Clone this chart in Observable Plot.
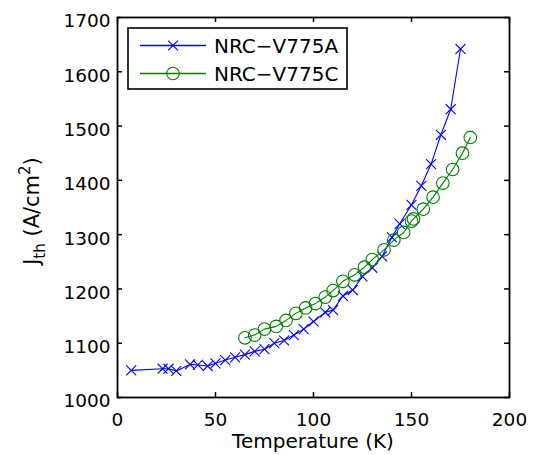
<!DOCTYPE html>
<html>
<head>
<meta charset="utf-8">
<script src="https://cdn.jsdelivr.net/npm/d3@7"></script>
<script src="https://cdn.jsdelivr.net/npm/@observablehq/plot@0.6"></script>
<style>
  html, body { margin: 0; padding: 0; background: #fff; }
  svg { font-family: "DejaVu Sans", sans-serif; }
</style>
</head>
<body>
<div id="chart"></div>
<script>
// Series A (blue, x markers)
const tempA = [7, 23, 26, 30, 37, 41, 46, 50, 55, 60, 65, 70, 75, 80, 85, 90, 95, 100, 106, 110, 115, 120, 125, 130, 135, 140, 144, 150, 155, 160, 165, 170, 175];
const jthA  = [1050, 1053, 1053, 1049, 1061, 1060, 1058, 1063, 1069, 1074, 1079, 1085, 1089, 1100, 1105, 1115, 1126, 1140, 1157, 1161, 1187, 1198, 1223, 1239, 1260, 1295, 1320, 1355, 1390, 1430, 1484, 1531, 1642];
// Series C (green, circles)
const tempC = [65, 70, 75, 81, 86, 91, 96, 101, 106, 110, 115, 121, 126, 130, 136, 141, 146, 150, 151, 156, 161, 166, 171, 176, 180];
const jthC  = [1110, 1115, 1126, 1131, 1142, 1155, 1165, 1173, 1185, 1197, 1214, 1226, 1240, 1254, 1272, 1290, 1304, 1325, 1329, 1347, 1369, 1395, 1420, 1450, 1479];

const seriesNames = ["NRC\u2212V775A", "NRC\u2212V775C"];
const xTicks = [0, 50, 100, 150, 200];
const yTicks = [1000, 1100, 1200, 1300, 1400, 1500, 1600, 1700];

const dataA = tempA.map((t, i) => ({t, j: jthA[i]}));
const dataC = tempC.map((t, i) => ({t, j: jthC[i]}));

const blue = "#0000ff", green = "#008000";
const fmt = d3.format("d");
const xMin = xTicks[0], xMax = xTicks[xTicks.length - 1];
const yMin = yTicks[0], yMax = yTicks[yTicks.length - 1];

const chart = Plot.plot({
  width: 535,
  height: 455,
  marginLeft: 117,
  marginRight: 26,
  marginTop: 17,
  marginBottom: 58,
  style: {fontFamily: "DejaVu Sans, sans-serif", background: "#fff", color: "#000"},
  x: {domain: [xMin, xMax]},
  y: {domain: [yMin, yMax]},
  marks: [
    Plot.line(dataA, {x: "t", y: "j", stroke: blue, strokeWidth: 1.1}),
    Plot.dot(dataA, {x: "t", y: "j", symbol: "times", r: 4.6, stroke: blue, strokeWidth: 1.1}),
    Plot.line(dataC, {x: "t", y: "j", stroke: green, strokeWidth: 1.1}),
    Plot.dot(dataC, {x: "t", y: "j", symbol: "circle", r: 6.3, stroke: green, fill: "none", strokeWidth: 1.1}),
    // tick labels
    Plot.axisX({ticks: xTicks, tickSize: 0, tickPadding: 15, fontSize: 18.5, label: null, tickFormat: fmt}),
    Plot.axisY({ticks: yTicks, tickSize: 0, tickPadding: 7, fontSize: 18.5, label: null, dy: 4, tickFormat: fmt}),
    // inward ticks on all four sides
    Plot.ruleX(xTicks, {x: d => d, y1: yMin, y2: yMin, insetTop: -5, stroke: "#000", strokeWidth: 1.5}),
    Plot.ruleX(xTicks, {x: d => d, y1: yMax, y2: yMax, insetBottom: -5, stroke: "#000", strokeWidth: 1.5}),
    Plot.ruleY(yTicks, {y: d => d, x1: xMin, x2: xMin, insetRight: -5, stroke: "#000", strokeWidth: 1.5}),
    Plot.ruleY(yTicks, {y: d => d, x1: xMax, x2: xMax, insetLeft: -5, stroke: "#000", strokeWidth: 1.5}),
    Plot.frame({stroke: "#000", strokeWidth: 1.8})
  ]
});

document.getElementById("chart").appendChild(chart);

const svg = d3.select(chart);

// X axis title
svg.append("text")
  .attr("x", 313).attr("y", 448)
  .attr("text-anchor", "middle")
  .attr("font-size", 20)
  .attr("fill", "#000")
  .text("Temperature (K)");

// Y axis title with sub/superscript
const yl = svg.append("text")
  .attr("transform", "translate(39,211) rotate(-90)")
  .attr("text-anchor", "middle")
  .attr("font-size", 21)
  .attr("fill", "#000");
yl.append("tspan").text("J");
yl.append("tspan").attr("font-size", 15).attr("dy", 6).text("th");
yl.append("tspan").attr("dy", -6).text(" (A/cm");
yl.append("tspan").attr("font-size", 15).attr("dy", -9).text("2");
yl.append("tspan").attr("dy", 9).text(")");

// Legend
const lg = svg.append("g").attr("text-anchor", "start");
lg.append("rect")
  .attr("x", 128).attr("y", 28).attr("width", 219).attr("height", 61)
  .attr("fill", "#fff").attr("stroke", "#000").attr("stroke-width", 1.6);
const rows = [
  {name: seriesNames[0], color: blue, sym: d3.symbolTimes, size: Math.PI * 4.6 * 4.6, y: 45.5},
  {name: seriesNames[1], color: green, sym: d3.symbolCircle, size: Math.PI * 6.3 * 6.3, y: 73.5}
];
for (const r of rows) {
  lg.append("line").attr("x1", 140).attr("x2", 206).attr("y1", r.y).attr("y2", r.y)
    .attr("stroke", r.color).attr("stroke-width", 1.3);
  lg.append("path").attr("d", d3.symbol(r.sym, r.size)())
    .attr("transform", `translate(173,${r.y})`)
    .attr("fill", "none").attr("stroke", r.color).attr("stroke-width", 1.1);
  lg.append("text").attr("x", 214).attr("y", r.y).attr("dy", "0.36em")
    .attr("text-anchor", "start")
    .attr("font-size", 20).attr("fill", "#000").text(r.name);
}
</script>
</body>
</html>
